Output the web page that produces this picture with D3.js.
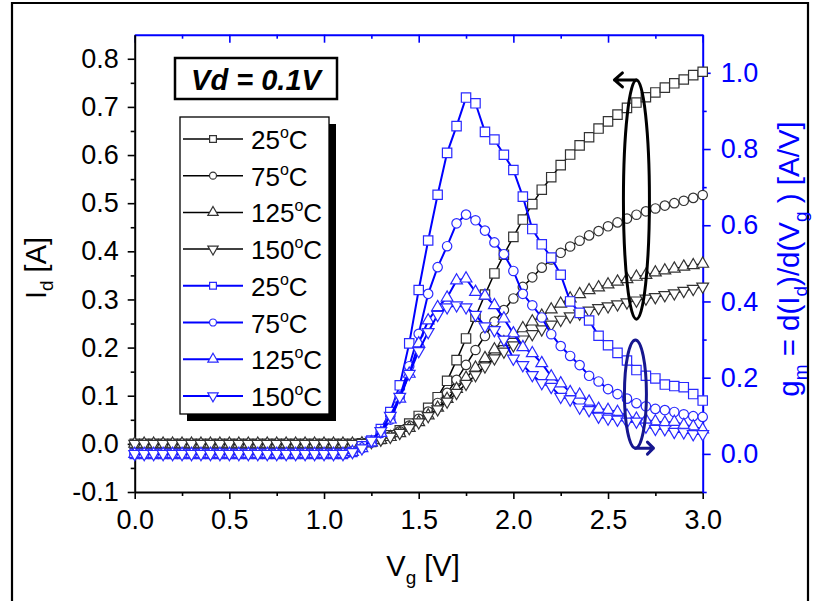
<!DOCTYPE html>
<html>
<head>
<meta charset="utf-8">
<script src="https://cdn.jsdelivr.net/npm/d3@7"></script>
<style>
  body { margin: 0; background: #fff; }
  svg { display: block; }
  text { font-family: "Liberation Sans", Arial, Helvetica, sans-serif; }
</style>
</head>
<body>
<svg id="chart" width="814" height="601"></svg>
<script>
// Gate voltage sweep (V)
const vg = [0.00,0.05,0.10,0.15,0.20,0.25,0.30,0.35,0.40,0.45,0.50,0.55,0.60,0.65,0.70,0.75,0.80,0.85,0.90,0.95,
            1.00,1.05,1.10,1.15,1.20,1.25,1.30,1.35,1.40,1.45,1.50,1.55,1.60,1.65,1.70,1.75,1.80,1.85,1.90,1.95,
            2.00,2.05,2.10,2.15,2.20,2.25,2.30,2.35,2.40,2.45,2.50,2.55,2.60,2.65,2.70,2.75,2.80,2.85,2.90,2.95,3.00];

// Drain current Id (A), left axis
const id25  = [0,0,0,0,0,0,0,0,0,0,0,0,0,0,0,0,0,0,0,0,0,0,0,0,
  0.001,0.004,0.010,0.018,0.028,0.042,0.058,0.075,0.097,0.131,
  0.174,0.219,0.264,0.310,0.354,0.393,0.430,0.466,0.498,0.528,
  0.554,0.579,0.601,0.620,0.637,0.655,0.670,0.684,0.698,0.709,
  0.720,0.730,0.740,0.749,0.757,0.766,0.773];
const id75  = [0,0,0,0,0,0,0,0,0,0,0,0,0,0,0,0,0,0,0,0,0,0,0,0,
  0.001,0.004,0.009,0.016,0.026,0.038,0.052,0.067,0.085,0.106,
  0.133,0.164,0.195,0.224,0.254,0.278,0.302,0.326,0.346,0.366,
  0.383,0.397,0.410,0.422,0.433,0.442,0.452,0.460,0.468,0.476,
  0.483,0.489,0.495,0.500,0.505,0.511,0.517];
const id125 = [0,0,0,0,0,0,0,0,0,0,0,0,0,0,0,0,0,0,0,0,0,0,0,0,
  0.001,0.003,0.008,0.014,0.022,0.033,0.045,0.059,0.075,0.093,
  0.114,0.137,0.158,0.178,0.196,0.211,0.226,0.240,0.254,0.266,
  0.279,0.291,0.302,0.311,0.319,0.325,0.331,0.337,0.342,0.347,
  0.351,0.356,0.360,0.364,0.368,0.371,0.374];
const id150 = [0,0,0,0,0,0,0,0,0,0,0,0,0,0,0,0,0,0,0,0,0,0,0,0,
  0.002,0.004,0.009,0.015,0.023,0.033,0.045,0.058,0.072,0.088,
  0.106,0.125,0.143,0.161,0.178,0.192,0.205,0.217,0.228,0.238,
  0.248,0.258,0.265,0.271,0.277,0.282,0.286,0.290,0.294,0.298,
  0.302,0.305,0.309,0.313,0.318,0.322,0.327];

// Transconductance gm (A/V), right axis
const gm25  = [0,0,0,0,0,0,0,0,0,0,0,0,0,0,0,0,0,0,0,0,0,0,0,
  0.005,0.020,0.035,0.065,0.110,0.180,0.290,0.430,0.560,0.680,
  0.790,0.860,0.935,0.920,0.845,0.825,0.785,0.745,0.675,0.590,
  0.550,0.515,0.470,0.400,0.370,0.350,0.310,0.285,0.265,0.245,
  0.220,0.205,0.198,0.182,0.178,0.175,0.157,0.140];
const gm75  = [0,0,0,0,0,0,0,0,0,0,0,0,0,0,0,0,0,0,0,0,0,0,0,
  0.005,0.015,0.030,0.055,0.090,0.150,0.230,0.315,0.420,0.490,
  0.545,0.605,0.628,0.613,0.586,0.555,0.524,0.480,0.420,0.390,
  0.358,0.314,0.283,0.257,0.233,0.205,0.190,0.170,0.157,0.145,
  0.133,0.125,0.118,0.115,0.110,0.104,0.099,0.097];
const gm125 = [0,0,0,0,0,0,0,0,0,0,0,0,0,0,0,0,0,0,0,0,0,0,0,
  0.005,0.015,0.030,0.055,0.090,0.145,0.210,0.290,0.350,0.385,
  0.410,0.455,0.460,0.425,0.415,0.390,0.355,0.316,0.280,0.264,
  0.238,0.203,0.185,0.162,0.155,0.137,0.118,0.115,0.110,0.100,
  0.092,0.089,0.085,0.082,0.084,0.076,0.072,0.064];
const gm150 = [0,0,0,0,0,0,0,0,0,0,0,0,0,0,0,0,0,0,0,0,0,0,0,
  0.005,0.015,0.035,0.060,0.100,0.150,0.210,0.270,0.320,0.365,
  0.385,0.390,0.385,0.365,0.335,0.325,0.300,0.250,0.233,0.207,
  0.186,0.176,0.150,0.143,0.122,0.115,0.098,0.093,0.090,0.085,
  0.085,0.072,0.066,0.065,0.058,0.057,0.052,0.052];

const temps = ["25", "75", "125", "150"];

// Axis ticks
const xTicks = [0, 0.5, 1.0, 1.5, 2.0, 2.5, 3.0];
const xMinor = [0.25, 0.75, 1.25, 1.75, 2.25, 2.75];
const leftTicks = [-0.1, 0.0, 0.1, 0.2, 0.3, 0.4, 0.5, 0.6, 0.7, 0.8];
const leftMinor = [-0.05, 0.05, 0.15, 0.25, 0.35, 0.45, 0.55, 0.65, 0.75];
const rightTicks = [0.0, 0.2, 0.4, 0.6, 0.8, 1.0];
const rightMinor = [-0.1, 0.1, 0.3, 0.5, 0.7, 0.9];

const BLUE = "#0000ff";
const TICK_FS = 27;
const svg = d3.select("#chart");
svg.append("rect").attr("width", 814).attr("height", 601).attr("fill", "#fff");

// outer frame
svg.append("path").attr("d", "M12,601 V3 H808 V601")
  .attr("stroke", "#000").attr("stroke-width", 2.2).attr("fill", "none");

const P = { left: 134.7, right: 702.7, top: 34.7, bottom: 492 };
const x = d3.scaleLinear().domain([0, 3]).range([P.left, P.right]);
const yL = d3.scaleLinear().domain([-0.1, 0.85]).range([P.bottom, P.top]);
const yR = d3.scaleLinear().domain([-0.1, 1.1]).range([P.bottom, P.top]);

function styleAxis(g, color, fs) {
  g.select(".domain").attr("stroke", color).attr("stroke-width", 2);
  g.selectAll(".tick line").attr("stroke", color).attr("stroke-width", 1.6);
  g.selectAll(".tick text").attr("fill", color).attr("font-size", fs);
}
function minorAxis(axis, pos, color) {
  const g = svg.append("g").attr("transform", pos).call(axis);
  g.select(".domain").remove();
  g.selectAll(".tick line").attr("stroke", color).attr("stroke-width", 1.6);
}

// bottom axis
const gx = svg.append("g").attr("transform", `translate(0,${P.bottom})`)
  .call(d3.axisBottom(x).tickValues(xTicks).tickFormat(d3.format(".1f")).tickSize(7).tickSizeOuter(0).tickPadding(11));
styleAxis(gx, "#000", TICK_FS);
minorAxis(d3.axisBottom(x).tickValues(xMinor).tickFormat("").tickSize(4).tickSizeOuter(0), `translate(0,${P.bottom})`, "#000");

// top axis (inward ticks)
const gt = svg.append("g").attr("transform", `translate(0,${P.top})`)
  .call(d3.axisTop(x).tickValues(xTicks).tickFormat("").tickSize(-8).tickSizeOuter(0));
styleAxis(gt, BLUE, TICK_FS);
minorAxis(d3.axisTop(x).tickValues(xMinor).tickFormat("").tickSize(-4).tickSizeOuter(0), `translate(0,${P.top})`, BLUE);

// left axis
const gl = svg.append("g").attr("transform", `translate(${P.left},0)`)
  .call(d3.axisLeft(yL).tickValues(leftTicks).tickFormat(d3.format(".1f")).tickSize(7).tickSizeOuter(0).tickPadding(9));
styleAxis(gl, "#000", TICK_FS);
gl.selectAll(".tick text").text(d => d < 0 ? "-" + Math.abs(d).toFixed(1) : d.toFixed(1));
minorAxis(d3.axisLeft(yL).tickValues(leftMinor).tickFormat("").tickSize(4).tickSizeOuter(0), `translate(${P.left},0)`, "#000");

// right axis
const gr = svg.append("g").attr("transform", `translate(${P.right},0)`)
  .call(d3.axisRight(yR).tickValues(rightTicks).tickFormat(d3.format(".1f")).tickSize(8).tickSizeOuter(0).tickPadding(10));
styleAxis(gr, BLUE, TICK_FS);
minorAxis(d3.axisRight(yR).tickValues(rightMinor).tickFormat("").tickSize(4).tickSizeOuter(0), `translate(${P.right},0)`, BLUE);

// axis titles
const tl = svg.append("text").attr("transform", "translate(46,268) rotate(-90)")
  .attr("text-anchor", "middle").attr("font-size", 29).attr("fill", "#000");
tl.append("tspan").text("I");
tl.append("tspan").attr("font-size", 19).attr("dy", 7).text("d");
tl.append("tspan").attr("dy", -7).text(" [A]");

const tb = svg.append("text").attr("x", 423).attr("y", 576)
  .attr("text-anchor", "middle").attr("font-size", 29).attr("fill", "#000");
tb.append("tspan").text("V");
tb.append("tspan").attr("font-size", 19).attr("dy", 8).text("g");
tb.append("tspan").attr("dy", -8).text(" [V]");

const tr = svg.append("text").attr("transform", "translate(799,259) rotate(-90)")
  .attr("text-anchor", "middle").attr("font-size", 29.5).attr("fill", BLUE);
tr.append("tspan").text("g");
tr.append("tspan").attr("font-size", 19).attr("dy", 8).text("m");
tr.append("tspan").attr("dy", -8).text(" = d(I");
tr.append("tspan").attr("font-size", 19).attr("dy", 8).text("d");
tr.append("tspan").attr("dy", -8).text(")/d(V");
tr.append("tspan").attr("font-size", 19).attr("dy", 8).text("g");
tr.append("tspan").attr("dy", -8).text(" ) [A/V]");

// series definitions
const symbols = {
  square: { type: d3.symbolSquare, rot: 0 },
  circle: { type: d3.symbolCircle, rot: 0 },
  up: { type: d3.symbolTriangle, rot: 0 },
  down: { type: d3.symbolTriangle, rot: 180 }
};
const symSize = { square: 88, circle: 70, up: 60, down: 60 };
const legSize = { square: 46, circle: 38, up: 46, down: 46 };
const shapes = ["square", "circle", "up", "down"];

const series = [
  ...[id25, id75, id125, id150].map((v, i) => ({ vals: v, y: yL, color: "#000", mark: "#333", lw: 1.5, shape: shapes[i], t: temps[i] })),
  ...[gm25, gm75, gm125, gm150].map((v, i) => ({ vals: v, y: yR, color: BLUE, mark: "#2a2aff", lw: 2, shape: shapes[i], t: temps[i] }))
];

const plot = svg.append("g");
series.forEach(s => {
  const line = d3.line().x((d, i) => x(vg[i])).y(d => s.y(d));
  plot.append("path").datum(s.vals).attr("d", line)
    .attr("fill", "none").attr("stroke", s.color).attr("stroke-width", s.lw);
  const sym = symbols[s.shape];
  plot.append("g").selectAll("path").data(s.vals).join("path")
    .attr("d", d3.symbol().type(sym.type).size(symSize[s.shape]))
    .attr("transform", (d, i) => `translate(${x(vg[i])},${s.y(d)}) rotate(${sym.rot})`)
    .attr("fill", "#fff").attr("stroke", s.mark).attr("stroke-width", 1.2);
});

// annotation ellipses with arrows
const ann = svg.append("g").attr("fill", "none").attr("stroke-width", 3).attr("stroke-linecap", "round").attr("stroke-linejoin", "round");
const eIdTop = 0.756, eIdBot = 0.259, eVx = 2.65;
const cx1 = x(eVx), ty1 = yL(eIdTop), by1 = yL(eIdBot);
ann.append("ellipse").attr("cx", cx1).attr("cy", (ty1 + by1) / 2).attr("rx", 13).attr("ry", (by1 - ty1) / 2).attr("stroke", "#000");
ann.append("path").attr("stroke", "#000")
  .attr("d", `M${cx1},${ty1} H${cx1 - 22} M${cx1 - 14},${ty1 - 7} L${cx1 - 22},${ty1} L${cx1 - 14},${ty1 + 7}`);

const eGmTop = 0.299, eGmBot = 0.015;
const cx2 = x(eVx) - 1, ty2 = yR(eGmTop), by2 = yR(eGmBot);
ann.append("ellipse").attr("cx", cx2).attr("cy", (ty2 + by2) / 2).attr("rx", 11).attr("ry", (by2 - ty2) / 2).attr("stroke", "#16168f");
ann.append("path").attr("stroke", "#16168f")
  .attr("d", `M${cx2},${by2} H${cx2 + 18} M${cx2 + 12},${by2 - 6} L${cx2 + 18},${by2} L${cx2 + 12},${by2 + 6}`);

// condition label
svg.append("rect").attr("x", 175).attr("y", 58).attr("width", 162).attr("height", 41)
  .attr("fill", "#fff").attr("stroke", "#000").attr("stroke-width", 2.5);
svg.append("text").attr("x", 256).attr("y", 90).attr("text-anchor", "middle")
  .attr("font-size", 29).attr("font-weight", "bold").attr("font-style", "italic").attr("fill", "#000")
  .text("Vd = 0.1V");

// legend
const L = { x: 180, y: 117, w: 149, h: 297, row0: 139, step: 36.7 };
svg.append("rect").attr("x", L.x + 7).attr("y", L.y + 7).attr("width", L.w).attr("height", L.h).attr("fill", "#000");
svg.append("rect").attr("x", L.x).attr("y", L.y).attr("width", L.w).attr("height", L.h)
  .attr("fill", "#fff").attr("stroke", "#000").attr("stroke-width", 1.3);
const leg = svg.append("g");
series.forEach((s, i) => {
  const yy = L.row0 + i * L.step;
  leg.append("line").attr("x1", 183).attr("x2", 243).attr("y1", yy).attr("y2", yy)
    .attr("stroke", s.color).attr("stroke-width", s.lw);
  const sym = symbols[s.shape];
  leg.append("path").attr("d", d3.symbol().type(sym.type).size(legSize[s.shape]))
    .attr("transform", `translate(213,${yy}) rotate(${sym.rot})`)
    .attr("fill", "#fff").attr("stroke", s.mark).attr("stroke-width", 1.2);
  const t = leg.append("text").attr("x", 251).attr("y", yy + 10).attr("font-size", 26).attr("fill", "#000");
  t.append("tspan").text(s.t);
  t.append("tspan").attr("font-size", 16).attr("dy", -11).text("o");
  t.append("tspan").attr("dy", 11).text("C");
});
</script>
</body>
</html>
